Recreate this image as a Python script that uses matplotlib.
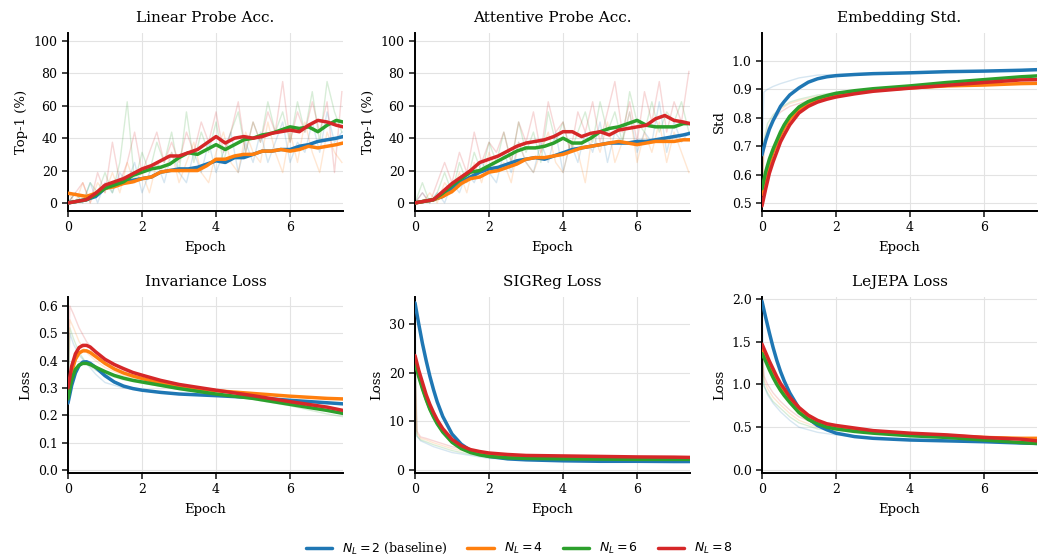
import matplotlib
matplotlib.use("Agg")
import matplotlib.pyplot as plt

plt.rcParams['font.family'] = ['DejaVu Serif']
plt.rcParams['mathtext.fontset'] = 'dejavusans'

labels = [r'$N_L=2$ (baseline)', r'$N_L=4$', r'$N_L=6$', r'$N_L=8$']
colors = ['#1f77b4', '#ff7f0e', '#2ca02c', '#d62728']

# ---------- accuracy panels ----------
acc_epochs = [0, .25, .5, .75, 1, 1.25, 1.5, 1.75, 2, 2.25, 2.5, 2.75, 3, 3.25, 3.5, 3.75,
              4, 4.25, 4.5, 4.75, 5, 5.25, 5.5, 5.75, 6, 6.25, 6.5, 6.75, 7, 7.25, 7.43]
lin_n2 = [0, 1, 2, 4, 9, 11, 13, 14, 15, 16, 19, 20, 21, 21, 22, 24, 26, 25, 28, 28, 30, 32, 32, 33, 33, 35, 36, 38, 39, 40, 41]
lin_n4 = [6, 5, 4, 6, 9, 10, 12, 13, 15, 16, 19, 20, 20, 20, 20, 23, 27, 27, 29, 30, 30, 32, 32, 33, 32, 33, 35, 34, 35, 36, 37]
lin_n6 = [0, 1, 2, 5, 9, 11, 13, 17, 19, 21, 22, 24, 28, 31, 30, 33, 36, 33, 36, 39, 40, 42, 43, 45, 47, 46, 47, 44, 48, 51, 50]
lin_n8 = [0, 1, 2, 6, 11, 13, 15, 18, 21, 23, 26, 29, 29, 31, 33, 37, 41, 37, 40, 41, 40, 41, 43, 44, 45, 44, 48, 51, 50, 48, 47]

att_n2 = [0, 1, 2, 4, 9, 13, 16, 19, 21, 22, 24, 26, 27, 28, 27, 29, 31, 33, 34, 35, 36, 37, 37, 37, 38, 38, 39, 40, 41, 42, 43]
att_n4 = [0, 1, 2, 4, 7, 12, 15, 16, 19, 20, 22, 24, 27, 28, 28, 29, 30, 32, 34, 35, 36, 37, 38, 37, 36, 37, 38, 38, 38, 39, 39]
att_n6 = [0, 1, 2, 6, 11, 15, 19, 20, 23, 26, 29, 32, 34, 34, 35, 37, 40, 37, 37, 40, 44, 46, 47, 49, 51, 48, 47, 47, 47, 49, 49]
att_n8 = [0, 1, 2, 7, 12, 16, 20, 25, 27, 29, 32, 35, 37, 38, 39, 41, 44, 44, 41, 43, 44, 42, 45, 46, 47, 48, 52, 54, 51, 50, 49]

raw_acc_epochs = [0, .2, .4, .6, .8, 1.0, 1.2, 1.4, 1.6, 1.8, 2.0, 2.2, 2.4, 2.6, 2.8, 3.0, 3.2, 3.4, 3.6,
                  3.8, 4.0, 4.2, 4.4, 4.6, 4.8, 5.0, 5.2, 5.4, 5.6, 5.8, 6.0, 6.2, 6.4, 6.6, 6.8, 7.0, 7.2, 7.4]
lin_raw_n2 = [0, 6.25, 0, 12.5, 0, 12.5, 6.25, 18.75, 12.5, 25, 6.25, 18.75, 25, 12.5, 31.25, 18.75, 12.5, 31.25, 18.75,
              37.5, 18.75, 31.25, 43.75, 18.75, 37.5, 25, 43.75, 25, 37.5, 50, 25, 37.5, 31.25, 50, 31.25, 56.25, 37.5, 43.75]
lin_raw_n4 = [6.25, 0, 12.5, 0, 12.5, 6.25, 18.75, 6.25, 25, 12.5, 18.75, 6.25, 25, 18.75, 31.25, 12.5, 25, 37.5, 18.75,
              12.5, 31.25, 43.75, 25, 18.75, 43.75, 31.25, 25, 50, 31.25, 18.75, 43.75, 25, 50, 31.25, 18.75, 43.75, 31.25, 25]
lin_raw_n6 = [0, 6.25, 0, 12.5, 6.25, 18.75, 6.25, 25, 62.5, 12.5, 31.25, 18.75, 37.5, 25, 43.75, 18.75, 56.25, 25, 43.75,
              31.25, 50, 25, 43.75, 56.25, 31.25, 50, 37.5, 62.5, 43.75, 56.25, 37.5, 62.5, 43.75, 68.75, 37.5, 75, 56.25, 43.75]
lin_raw_n8 = [0, 6.25, 12.5, 0, 18.75, 6.25, 37.5, 12.5, 25, 43.75, 18.75, 31.25, 43.75, 25, 37.5, 25, 43.75, 31.25, 50,
              37.5, 56.25, 31.25, 43.75, 62.5, 31.25, 50, 37.5, 56.25, 43.75, 75, 37.5, 56.25, 43.75, 62.5, 43.75, 62.5, 18.75, 68.75]
att_raw_n2 = [0, 6.25, 0, 6.25, 0, 12.5, 6.25, 18.75, 12.5, 25, 18.75, 12.5, 31.25, 18.75, 37.5, 25, 18.75, 37.5, 25,
              43.75, 18.75, 37.5, 25, 43.75, 31.25, 50, 25, 43.75, 37.5, 56.25, 31.25, 43.75, 37.5, 62.5, 31.25, 50, 37.5, 43.75]
att_raw_n4 = [0, 0, 6.25, 0, 12.5, 6.25, 18.75, 6.25, 25, 12.5, 31.25, 18.75, 25, 12.5, 37.5, 25, 18.75, 31.25, 43.75,
              25, 18.75, 37.5, 31.25, 12.5, 43.75, 31.25, 50, 25, 37.5, 56.25, 25, 43.75, 31.25, 50, 25, 43.75, 31.25, 18.75]
att_raw_n6 = [0, 12.5, 0, 6.25, 18.75, 6.25, 25, 12.5, 31.25, 18.75, 37.5, 25, 43.75, 25, 50, 31.25, 43.75, 25, 56.25,
              37.5, 50, 31.25, 43.75, 56.25, 37.5, 62.5, 43.75, 56.25, 37.5, 68.75, 50, 43.75, 62.5, 43.75, 56.25, 50, 62.5, 43.75]
att_raw_n8 = [0, 6.25, 0, 12.5, 25, 12.5, 31.25, 18.75, 43.75, 25, 37.5, 31.25, 43.75, 25, 50, 37.5, 56.25, 31.25, 62.5,
              43.75, 50, 31.25, 56.25, 43.75, 62.5, 37.5, 56.25, 75, 43.75, 62.5, 37.5, 68.75, 50, 75, 43.75, 62.5, 50, 81.25]

# ---------- continuous panels ----------
cont_epochs = [0, .1, .2, .3, .4, .5, .6, .75, 1, 1.25, 1.5, 1.75, 2, 2.5, 3, 4, 5, 6, 7, 7.43]
raw_cont_epochs = [0, 0.05, 0.15, 0.3, 0.5, 0.75, 1, 1.5, 2, 3, 4, 5, 6, 7, 7.43]

std_n2 = [0.67, 0.72, 0.76, 0.79, 0.815, 0.84, 0.857, 0.88, 0.905, 0.925, 0.937, 0.944, 0.948, 0.952, 0.955, 0.958, 0.962, 0.964, 0.967, 0.969]
std_n4 = [0.53, 0.59, 0.64, 0.68, 0.71, 0.74, 0.765, 0.795, 0.83, 0.85, 0.863, 0.872, 0.88, 0.89, 0.897, 0.905, 0.912, 0.915, 0.92, 0.921]
std_n6 = [0.55, 0.61, 0.655, 0.69, 0.72, 0.75, 0.775, 0.805, 0.838, 0.857, 0.869, 0.878, 0.886, 0.895, 0.902, 0.912, 0.924, 0.934, 0.944, 0.947]
std_n8 = [0.49, 0.55, 0.605, 0.645, 0.68, 0.715, 0.74, 0.775, 0.817, 0.84, 0.855, 0.865, 0.873, 0.884, 0.893, 0.904, 0.914, 0.924, 0.933, 0.934]
std_raw_n2 = [0.67, 0.89, 0.9, 0.91, 0.92, 0.93, 0.94, 0.95, 0.952, 0.957, 0.958, 0.962, 0.964, 0.968, 0.97]
std_raw_n4 = [0.53, 0.7, 0.76, 0.8, 0.83, 0.85, 0.86, 0.875, 0.885, 0.898, 0.903, 0.91, 0.915, 0.92, 0.92]
std_raw_n6 = [0.55, 0.72, 0.78, 0.81, 0.835, 0.855, 0.865, 0.88, 0.888, 0.9, 0.912, 0.925, 0.935, 0.945, 0.95]
std_raw_n8 = [0.49, 0.68, 0.75, 0.79, 0.82, 0.84, 0.85, 0.87, 0.88, 0.893, 0.903, 0.912, 0.925, 0.935, 0.932]

inv_n2 = [0.245, 0.31, 0.355, 0.382, 0.395, 0.396, 0.39, 0.375, 0.345, 0.322, 0.307, 0.298, 0.292, 0.284, 0.278, 0.272, 0.265, 0.255, 0.246, 0.242]
inv_n4 = [0.28, 0.36, 0.405, 0.428, 0.436, 0.436, 0.43, 0.415, 0.39, 0.37, 0.355, 0.344, 0.335, 0.318, 0.305, 0.29, 0.28, 0.27, 0.262, 0.26]
inv_n6 = [0.26, 0.33, 0.368, 0.384, 0.39, 0.39, 0.386, 0.376, 0.36, 0.346, 0.336, 0.328, 0.322, 0.31, 0.298, 0.278, 0.262, 0.24, 0.218, 0.207]
inv_n8 = [0.3, 0.38, 0.425, 0.448, 0.456, 0.456, 0.45, 0.432, 0.405, 0.386, 0.371, 0.357, 0.347, 0.328, 0.313, 0.292, 0.272, 0.25, 0.23, 0.218]
inv_raw_n2 = [0.245, 0.5, 0.46, 0.42, 0.39, 0.35, 0.32, 0.3, 0.29, 0.278, 0.272, 0.265, 0.255, 0.246, 0.242]
inv_raw_n4 = [0.28, 0.55, 0.52, 0.47, 0.43, 0.4, 0.375, 0.345, 0.33, 0.305, 0.29, 0.28, 0.27, 0.262, 0.26]
inv_raw_n6 = [0.26, 0.52, 0.48, 0.43, 0.39, 0.365, 0.35, 0.33, 0.318, 0.295, 0.275, 0.258, 0.235, 0.205, 0.195]
inv_raw_n8 = [0.3, 0.6, 0.57, 0.52, 0.47, 0.43, 0.4, 0.365, 0.345, 0.312, 0.29, 0.27, 0.248, 0.225, 0.215]

sig_n2 = [34.3, 30, 26, 22.5, 19.3, 16.5, 14, 11, 7.4, 5.3, 4.0, 3.3, 2.8, 2.3, 2.1, 1.9, 1.8, 1.8, 1.75, 1.75]
sig_n4 = [22.5, 19.6, 17, 14.7, 12.7, 11.1, 9.7, 8.0, 5.9, 4.6, 3.8, 3.3, 3.0, 2.7, 2.6, 2.5, 2.45, 2.4, 2.4, 2.4]
sig_n6 = [22, 19.2, 16.7, 14.5, 12.5, 10.9, 9.5, 7.8, 5.7, 4.4, 3.6, 3.1, 2.8, 2.5, 2.4, 2.3, 2.25, 2.2, 2.2, 2.2]
sig_n8 = [23.5, 20.5, 18, 15.5, 13.5, 11.8, 10.3, 8.5, 6.3, 5.0, 4.2, 3.8, 3.5, 3.2, 3.0, 2.9, 2.8, 2.7, 2.65, 2.6]
sig_raw_n2 = [34, 7, 6, 5.5, 4.8, 4.2, 3.6, 3.0, 2.4, 2.1, 1.9, 1.8, 1.8, 1.75, 1.75]
sig_raw_n4 = [22.5, 7.5, 6.5, 6.2, 5.6, 5.0, 4.4, 3.6, 3.0, 2.6, 2.5, 2.45, 2.4, 2.4, 2.4]
sig_raw_n6 = [22, 7, 6.2, 5.8, 5.2, 4.6, 4.0, 3.2, 2.8, 2.4, 2.3, 2.25, 2.2, 2.2, 2.2]
sig_raw_n8 = [23.5, 8, 6.8, 6.5, 6.0, 5.4, 4.8, 4.0, 3.4, 3.0, 2.9, 2.8, 2.7, 2.65, 2.6]

lej_n2 = [1.97, 1.78, 1.6, 1.43, 1.28, 1.15, 1.04, 0.9, 0.72, 0.6, 0.52, 0.47, 0.43, 0.39, 0.37, 0.35, 0.34, 0.33, 0.315, 0.31]
lej_n4 = [1.42, 1.32, 1.22, 1.13, 1.05, 0.97, 0.91, 0.82, 0.7, 0.62, 0.56, 0.52, 0.5, 0.47, 0.45, 0.42, 0.4, 0.38, 0.37, 0.37]
lej_n6 = [1.36, 1.27, 1.17, 1.08, 1.0, 0.93, 0.87, 0.79, 0.67, 0.59, 0.54, 0.5, 0.48, 0.45, 0.43, 0.4, 0.38, 0.35, 0.32, 0.31]
lej_n8 = [1.47, 1.37, 1.27, 1.18, 1.09, 1.01, 0.95, 0.85, 0.73, 0.64, 0.58, 0.54, 0.52, 0.49, 0.46, 0.43, 0.41, 0.38, 0.36, 0.34]
lej_raw_n2 = [1.97, 1.0, 0.88, 0.78, 0.68, 0.58, 0.5, 0.44, 0.41, 0.37, 0.35, 0.34, 0.33, 0.315, 0.31]
lej_raw_n4 = [1.42, 1.05, 0.95, 0.85, 0.76, 0.66, 0.58, 0.5, 0.47, 0.45, 0.42, 0.4, 0.38, 0.37, 0.37]
lej_raw_n6 = [1.36, 0.98, 0.9, 0.8, 0.72, 0.62, 0.55, 0.48, 0.46, 0.43, 0.4, 0.38, 0.35, 0.32, 0.31]
lej_raw_n8 = [1.47, 1.1, 1.0, 0.9, 0.8, 0.7, 0.62, 0.53, 0.5, 0.46, 0.43, 0.41, 0.38, 0.36, 0.34]

panels = [
    dict(title='Linear Probe Acc.', ylabel='Top-1 (%)', x=acc_epochs, xr=raw_acc_epochs,
         smooth=[lin_n2, lin_n4, lin_n6, lin_n8], raw=[lin_raw_n2, lin_raw_n4, lin_raw_n6, lin_raw_n8],
         ylim=(-5, 105), yticks=[0, 20, 40, 60, 80, 100], fmt='{:.0f}'),
    dict(title='Attentive Probe Acc.', ylabel='Top-1 (%)', x=acc_epochs, xr=raw_acc_epochs,
         smooth=[att_n2, att_n4, att_n6, att_n8], raw=[att_raw_n2, att_raw_n4, att_raw_n6, att_raw_n8],
         ylim=(-5, 105), yticks=[0, 20, 40, 60, 80, 100], fmt='{:.0f}'),
    dict(title='Embedding Std.', ylabel='Std', x=cont_epochs, xr=raw_cont_epochs,
         smooth=[std_n2, std_n4, std_n6, std_n8], raw=[std_raw_n2, std_raw_n4, std_raw_n6, std_raw_n8],
         ylim=(0.472, 1.098), yticks=[0.5, 0.6, 0.7, 0.8, 0.9, 1.0], fmt='{:.1f}'),
    dict(title='Invariance Loss', ylabel='Loss', x=cont_epochs, xr=raw_cont_epochs,
         smooth=[inv_n2, inv_n4, inv_n6, inv_n8], raw=[inv_raw_n2, inv_raw_n4, inv_raw_n6, inv_raw_n8],
         ylim=(-0.011, 0.633), yticks=[0.0, 0.1, 0.2, 0.3, 0.4, 0.5, 0.6], fmt='{:.1f}'),
    dict(title='SIGReg Loss', ylabel='Loss', x=cont_epochs, xr=raw_cont_epochs,
         smooth=[sig_n2, sig_n4, sig_n6, sig_n8], raw=[sig_raw_n2, sig_raw_n4, sig_raw_n6, sig_raw_n8],
         ylim=(-0.6, 35.5), yticks=[0, 10, 20, 30], fmt='{:.0f}'),
    dict(title='LeJEPA Loss', ylabel='Loss', x=cont_epochs, xr=raw_cont_epochs,
         smooth=[lej_n2, lej_n4, lej_n6, lej_n8], raw=[lej_raw_n2, lej_raw_n4, lej_raw_n6, lej_raw_n8],
         ylim=(-0.035, 2.02), yticks=[0.0, 0.5, 1.0, 1.5, 2.0], fmt='{:.1f}'),
]

W, H = 1039, 559
fig = plt.figure(figsize=(W / 100, H / 100), dpi=100)
lefts = [68, 415, 762]
row_tb = [(33, 211), (297, 473)]
aw = 275

handles = []
for i, p in enumerate(panels):
    r, c = divmod(i, 3)
    top, bot = row_tb[r]
    ax = fig.add_axes([lefts[c] / W, 1 - bot / H, aw / W, (bot - top) / H])
    for k in range(4):
        n = min(len(p['xr']), len(p['raw'][k]))
        ax.plot(p['xr'][:n], p['raw'][k][:n], color=colors[k], lw=1.0, alpha=0.18, zorder=1)
    for k in range(4):
        n = min(len(p['x']), len(p['smooth'][k]))
        ln, = ax.plot(p['x'][:n], p['smooth'][k][:n], color=colors[k], lw=2.5, zorder=3,
                      solid_capstyle='round', solid_joinstyle='round', label=labels[k])
        if i == 0:
            handles.append(ln)
    ax.set_xlim(0, 7.43)
    ax.set_ylim(*p['ylim'])
    ax.set_xticks([0, 2, 4, 6])
    ax.set_yticks(p['yticks'])
    ax.set_yticklabels([p['fmt'].format(v) for v in p['yticks']])
    ax.set_title(p['title'], fontsize=11, pad=8)
    ax.set_xlabel('Epoch', fontsize=9.5, labelpad=5)
    ax.set_ylabel(p['ylabel'], fontsize=9.5, labelpad=4)
    ax.grid(True, color='#e3e3e3', lw=0.8)
    ax.set_axisbelow(True)
    for s in ['top', 'right']:
        ax.spines[s].set_visible(False)
    for s in ['left', 'bottom']:
        ax.spines[s].set_linewidth(1.4)
    ax.tick_params(axis='both', labelsize=9, width=1.2, length=4, color='#222222')

fig.legend(handles=handles, labels=labels, loc='lower center', ncol=4, frameon=False,
           bbox_to_anchor=(0.5, -0.015), fontsize=9, handlelength=2.1, columnspacing=1.6)

fig.savefig('out.png', dpi=100)
